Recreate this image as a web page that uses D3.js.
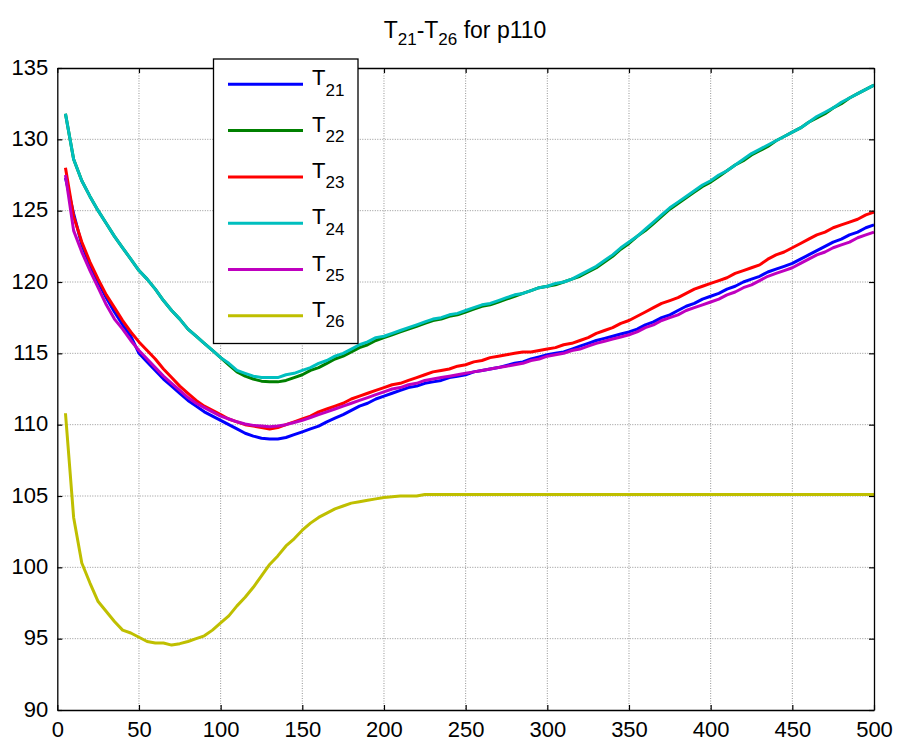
<!DOCTYPE html>
<html><head><meta charset="utf-8">
<script src="https://cdn.jsdelivr.net/npm/d3@7"></script>
<style>body{margin:0;background:#fff}svg{display:block}text{font-family:"Liberation Sans",Arial,sans-serif}</style>
</head><body>
<svg id="c" width="899" height="743"></svg>
<script>
const xs = d3.range(5, 501, 5);
const T21 = [127.3,124.8,122.6,121.2,120.0,118.9,117.9,117.0,116.2,115.0,114.4,113.8,113.2,112.7,112.2,111.7,111.3,110.9,110.6,110.3,110.0,109.7,109.4,109.2,109.05,109.0,109.0,109.1,109.3,109.5,109.7,109.9,110.2,110.45,110.7,111.0,111.3,111.5,111.8,112.0,112.2,112.4,112.6,112.7,112.9,113.0,113.1,113.3,113.4,113.5,113.7,113.8,113.9,114.0,114.15,114.3,114.4,114.6,114.75,114.9,115.0,115.1,115.3,115.5,115.7,115.9,116.05,116.2,116.35,116.5,116.7,117.0,117.2,117.5,117.7,118.0,118.3,118.5,118.8,119.0,119.2,119.5,119.7,120.0,120.2,120.4,120.7,120.9,121.1,121.3,121.6,121.9,122.2,122.5,122.8,123.0,123.3,123.5,123.8,124.0];
const T22 = [131.8,128.6,127.1,126.0,125.0,124.1,123.2,122.4,121.6,120.8,120.2,119.5,118.7,118.0,117.4,116.7,116.2,115.7,115.2,114.7,114.2,113.7,113.4,113.2,113.05,113.0,113.0,113.1,113.3,113.5,113.8,114.0,114.3,114.6,114.8,115.1,115.4,115.6,115.9,116.1,116.3,116.5,116.7,116.9,117.1,117.3,117.4,117.6,117.7,117.9,118.1,118.3,118.4,118.6,118.8,119.0,119.2,119.4,119.6,119.7,119.8,120.0,120.2,120.4,120.7,121.0,121.4,121.8,122.3,122.7,123.2,123.6,124.1,124.6,125.1,125.5,125.9,126.3,126.7,127.0,127.4,127.8,128.2,128.5,128.9,129.2,129.5,129.9,130.2,130.5,130.8,131.2,131.5,131.8,132.2,132.5,132.9,133.2,133.5,133.8];
const T23 = [128.0,124.6,122.8,121.4,120.2,119.1,118.2,117.3,116.5,115.8,115.2,114.6,113.9,113.3,112.7,112.2,111.7,111.3,111.0,110.7,110.4,110.2,110.0,109.9,109.8,109.7,109.8,110.0,110.2,110.4,110.6,110.9,111.1,111.3,111.5,111.8,112.0,112.2,112.4,112.6,112.8,112.9,113.1,113.3,113.5,113.7,113.8,113.9,114.1,114.2,114.4,114.5,114.7,114.8,114.9,115.0,115.1,115.1,115.2,115.3,115.4,115.6,115.7,115.9,116.1,116.4,116.6,116.8,117.1,117.3,117.6,117.9,118.2,118.5,118.7,118.9,119.2,119.5,119.7,119.9,120.1,120.3,120.6,120.8,121.0,121.2,121.6,121.9,122.1,122.4,122.7,123.0,123.3,123.5,123.8,124.0,124.2,124.4,124.7,124.9];
const T24 = [131.8,128.6,127.1,126.0,125.0,124.1,123.2,122.4,121.6,120.8,120.2,119.5,118.7,118.0,117.4,116.7,116.2,115.7,115.2,114.7,114.3,113.8,113.6,113.4,113.3,113.3,113.3,113.5,113.6,113.8,114.0,114.3,114.5,114.8,115.0,115.3,115.6,115.8,116.1,116.2,116.4,116.6,116.8,117.0,117.2,117.4,117.5,117.7,117.8,118.0,118.2,118.4,118.5,118.7,118.9,119.1,119.2,119.4,119.6,119.7,119.9,120.0,120.2,120.5,120.8,121.1,121.5,121.9,122.4,122.8,123.2,123.7,124.2,124.7,125.2,125.6,126.0,126.4,126.8,127.1,127.5,127.8,128.2,128.6,129.0,129.3,129.6,129.9,130.2,130.5,130.8,131.2,131.6,131.9,132.2,132.6,132.9,133.2,133.5,133.8];
const T25 = [127.5,123.6,122.1,120.8,119.6,118.4,117.4,116.7,115.9,115.2,114.6,114.0,113.4,112.9,112.4,111.9,111.5,111.2,110.9,110.6,110.4,110.2,110.05,109.95,109.9,109.85,109.9,110.0,110.15,110.3,110.5,110.7,110.9,111.1,111.3,111.5,111.7,111.9,112.1,112.3,112.5,112.6,112.8,112.9,113.1,113.2,113.3,113.4,113.5,113.6,113.7,113.8,113.9,114.0,114.1,114.2,114.3,114.5,114.6,114.8,114.9,115.0,115.2,115.3,115.5,115.7,115.85,116.0,116.15,116.3,116.5,116.8,117.0,117.3,117.5,117.7,118.0,118.2,118.4,118.6,118.8,119.1,119.3,119.6,119.8,120.1,120.4,120.6,120.8,121.0,121.3,121.6,121.9,122.1,122.4,122.6,122.8,123.1,123.3,123.5];
const T26 = [110.8,103.5,100.3,98.9,97.6,96.9,96.2,95.6,95.4,95.1,94.8,94.7,94.7,94.55,94.65,94.8,95.0,95.2,95.6,96.1,96.6,97.3,97.9,98.6,99.4,100.2,100.8,101.5,102.0,102.6,103.1,103.5,103.8,104.1,104.3,104.5,104.6,104.7,104.8,104.9,104.95,105.0,105.0,105.0,105.1,105.1,105.1,105.1,105.1,105.1,105.1,105.1,105.1,105.1,105.1,105.1,105.1,105.1,105.1,105.1,105.1,105.1,105.1,105.1,105.1,105.1,105.1,105.1,105.1,105.1,105.1,105.1,105.1,105.1,105.1,105.1,105.1,105.1,105.1,105.1,105.1,105.1,105.1,105.1,105.1,105.1,105.1,105.1,105.1,105.1,105.1,105.1,105.1,105.1,105.1,105.1,105.1,105.1,105.1,105.1];
const seriesNames = ["21","22","23","24","25","26"];
const seriesColors = ["#0000ff","#008000","#ff0000","#00bfbf","#bf00bf","#bfbf00"];
const xTicks = [0,50,100,150,200,250,300,350,400,450,500];
const yTicks = [90,95,100,105,110,115,120,125,130,135];
const allSeries = [T21,T22,T23,T24,T25,T26];

const svg = d3.select("#c");
const L = 57.3, R = 874, T = 68, B = 710;
const x = d3.scaleLinear().domain([0,500]).range([L,R]);
const y = d3.scaleLinear().domain([90,135]).range([B,T]);

// grid
const g = svg.append("g");
g.selectAll(".gx").data(xTicks.slice(1,-1)).join("line")
  .attr("x1",d=>x(d)).attr("x2",d=>x(d)).attr("y1",T).attr("y2",B)
  .attr("stroke","#7a7a7a").attr("stroke-width",0.8).attr("stroke-dasharray","1,1.5");
g.selectAll(".gy").data(yTicks.slice(1,-1)).join("line")
  .attr("x1",L).attr("x2",R).attr("y1",d=>y(d)).attr("y2",d=>y(d))
  .attr("stroke","#7a7a7a").attr("stroke-width",0.8).attr("stroke-dasharray","1,1.5");

// lines
const line = d3.line().x((d,i)=>x(xs[i])).y(d=>y(d));
allSeries.forEach((s,k)=>{
  svg.append("path").datum(s).attr("d",line).attr("fill","none")
    .attr("stroke",seriesColors[k]).attr("stroke-width",3).attr("stroke-linejoin","round");
});

// axes
const fs = 22;
const ax = svg.append("g").attr("transform",`translate(0,${B})`)
  .call(d3.axisBottom(x).tickValues(xTicks).tickSizeInner(-5).tickSizeOuter(0).tickPadding(11));
const ay = svg.append("g").attr("transform",`translate(${L},0)`)
  .call(d3.axisLeft(y).tickValues(yTicks).tickSizeInner(-5).tickSizeOuter(0).tickPadding(9));
const axT = svg.append("g").attr("transform",`translate(0,${T})`)
  .call(d3.axisTop(x).tickValues(xTicks).tickSizeInner(-5).tickSizeOuter(0).tickFormat(""));
const ayR = svg.append("g").attr("transform",`translate(${R},0)`)
  .call(d3.axisRight(y).tickValues(yTicks).tickSizeInner(-5).tickSizeOuter(0).tickFormat(""));
[ax,ay,axT,ayR].forEach(a=>{
  a.select(".domain").attr("stroke","#000").attr("stroke-width",1.3);
  a.selectAll(".tick line").attr("stroke","#000").attr("stroke-width",1.2);
  a.selectAll("text").attr("font-size",fs).attr("fill","#000").attr("font-family","Liberation Sans, Arial, sans-serif");
});
ax.selectAll("text").attr("dy","0.71em");
ay.selectAll("text").attr("dy","0.28em");

// title
const title = svg.append("text").attr("x",465).attr("y",38).attr("text-anchor","middle")
  .attr("font-size",23).attr("fill","#000");
title.append("tspan").text("T");
title.append("tspan").attr("font-size",17).attr("dy",7).text("21");
title.append("tspan").attr("dy",-7).text("-T");
title.append("tspan").attr("font-size",17).attr("dy",7).text("26");
title.append("tspan").attr("dy",-7).text(" for p110");

// legend
const lg = svg.append("g");
lg.append("rect").attr("x",213.5).attr("y",59).attr("width",144.5).attr("height",284.5)
  .attr("fill","#fff").attr("stroke","#000").attr("stroke-width",1.3);
seriesNames.forEach((n,i)=>{
  const yy = 84.3 + i*46.3;
  lg.append("line").attr("x1",228).attr("x2",303).attr("y1",yy).attr("y2",yy)
    .attr("stroke",seriesColors[i]).attr("stroke-width",3);
  const t = lg.append("text").attr("x",312).attr("y",yy+1).attr("font-size",22).attr("fill","#000");
  t.append("tspan").text("T");
  t.append("tspan").attr("font-size",17).attr("dy",10.5).text(n);
});
</script>
</body></html>
